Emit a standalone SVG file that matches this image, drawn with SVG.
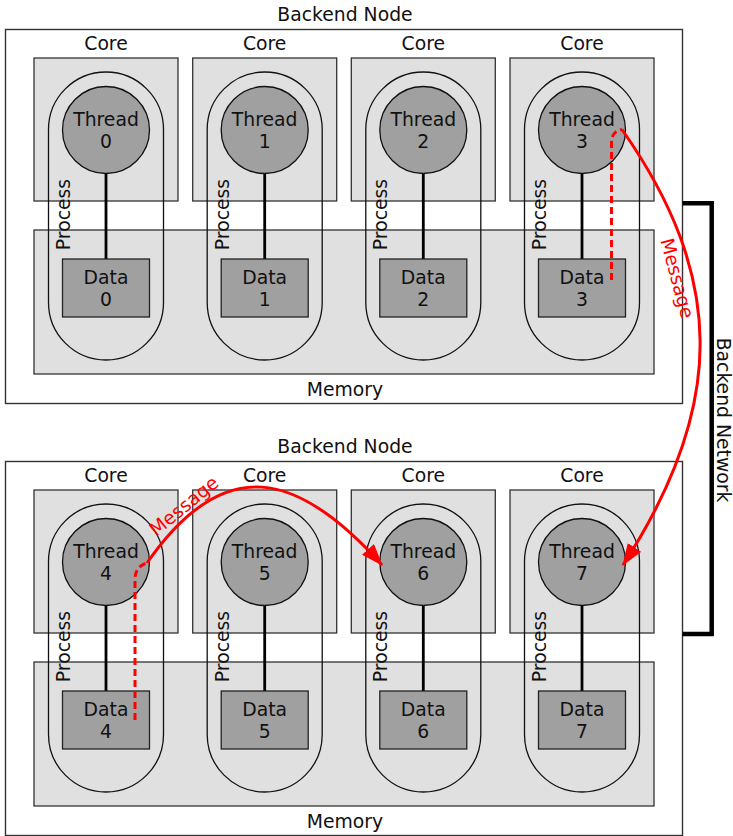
<svg xmlns="http://www.w3.org/2000/svg" width="733" height="836" viewBox="0 0 733 836">
<style>
text{font-family:"DejaVu Sans","Liberation Sans",sans-serif;font-size:18.8px;fill:#111;text-anchor:middle}
.outer{fill:#fff;stroke:#333;stroke-width:1.4}
.box{fill:#e0e0e0;stroke:#333;stroke-width:1.3}
.pill{fill:none;stroke:#111;stroke-width:1.3}
.link{stroke:#000;stroke-width:2.8}
.thread{fill:#a0a0a0;stroke:#111;stroke-width:1.3}
.data{fill:#a0a0a0;stroke:#222;stroke-width:1.3}
.msg{fill:none;stroke:#f00;stroke-width:3}
.dash{fill:none;stroke:#f00;stroke-width:3;stroke-dasharray:7 4}
.red{fill:#f00}
.net{fill:none;stroke:#000;stroke-width:4.5}
</style>
<defs>
<marker id="arrow" markerUnits="userSpaceOnUse" viewBox="0 0 22 16" markerWidth="22" markerHeight="16" refX="21" refY="8" orient="auto">
<path d="M0,0 L22,8 L0,16 z" fill="#f00"/>
</marker>
</defs>

<g id="backend-node-a">
<rect class="outer" x="5.5" y="29.5" width="677" height="374"/>
<text x="345" y="21">Backend Node</text>
<g id="core-0"><rect class="box" x="34" y="58" width="144" height="143"/><text x="106" y="50">Core</text></g>
<g id="core-1"><rect class="box" x="192.7" y="58" width="144" height="143"/><text x="264.7" y="50">Core</text></g>
<g id="core-2"><rect class="box" x="351.3" y="58" width="144" height="143"/><text x="423.3" y="50">Core</text></g>
<g id="core-3"><rect class="box" x="510" y="58" width="144" height="143"/><text x="582" y="50">Core</text></g>
<g id="memory-a"><rect class="box" x="34" y="230" width="620" height="144"/><text x="345" y="396">Memory</text></g>
<g id="process-0"><rect class="pill" x="48.5" y="72" width="115" height="288" rx="57.5"/><text transform="translate(70,214.5) rotate(-90)">Process</text></g>
<g id="process-1"><rect class="pill" x="207.2" y="72" width="115" height="288" rx="57.5"/><text transform="translate(228.7,214.5) rotate(-90)">Process</text></g>
<g id="process-2"><rect class="pill" x="365.8" y="72" width="115" height="288" rx="57.5"/><text transform="translate(387.3,214.5) rotate(-90)">Process</text></g>
<g id="process-3"><rect class="pill" x="524.5" y="72" width="115" height="288" rx="57.5"/><text transform="translate(546,214.5) rotate(-90)">Process</text></g>
</g>

<g id="backend-node-b">
<rect class="outer" x="5.5" y="461.5" width="677" height="374"/>
<text x="345" y="453">Backend Node</text>
<g id="core-4"><rect class="box" x="34" y="490" width="144" height="143"/><text x="106" y="482">Core</text></g>
<g id="core-5"><rect class="box" x="192.7" y="490" width="144" height="143"/><text x="264.7" y="482">Core</text></g>
<g id="core-6"><rect class="box" x="351.3" y="490" width="144" height="143"/><text x="423.3" y="482">Core</text></g>
<g id="core-7"><rect class="box" x="510" y="490" width="144" height="143"/><text x="582" y="482">Core</text></g>
<g id="memory-b"><rect class="box" x="34" y="662" width="620" height="144"/><text x="345" y="828">Memory</text></g>
<g id="process-4"><rect class="pill" x="48.5" y="504" width="115" height="288" rx="57.5"/><text transform="translate(70,646.5) rotate(-90)">Process</text></g>
<g id="process-5"><rect class="pill" x="207.2" y="504" width="115" height="288" rx="57.5"/><text transform="translate(228.7,646.5) rotate(-90)">Process</text></g>
<g id="process-6"><rect class="pill" x="365.8" y="504" width="115" height="288" rx="57.5"/><text transform="translate(387.3,646.5) rotate(-90)">Process</text></g>
<g id="process-7"><rect class="pill" x="524.5" y="504" width="115" height="288" rx="57.5"/><text transform="translate(546,646.5) rotate(-90)">Process</text></g>
</g>

<g id="connectors">
<line class="link" x1="106" y1="173.5" x2="106" y2="259"/>
<line class="link" x1="264.7" y1="173.5" x2="264.7" y2="259"/>
<line class="link" x1="423.3" y1="173.5" x2="423.3" y2="259"/>
<line class="link" x1="582" y1="173.5" x2="582" y2="259"/>
<line class="link" x1="106" y1="605.5" x2="106" y2="691"/>
<line class="link" x1="264.7" y1="605.5" x2="264.7" y2="691"/>
<line class="link" x1="423.3" y1="605.5" x2="423.3" y2="691"/>
<line class="link" x1="582" y1="605.5" x2="582" y2="691"/>
</g>

<g id="thread-0"><circle class="thread" cx="106" cy="130" r="43.5"/><text x="106" y="125.5">Thread</text><text x="106" y="148">0</text></g>
<g id="thread-1"><circle class="thread" cx="264.7" cy="130" r="43.5"/><text x="264.7" y="125.5">Thread</text><text x="264.7" y="148">1</text></g>
<g id="thread-2"><circle class="thread" cx="423.3" cy="130" r="43.5"/><text x="423.3" y="125.5">Thread</text><text x="423.3" y="148">2</text></g>
<g id="thread-3"><circle class="thread" cx="582" cy="130" r="43.5"/><text x="582" y="125.5">Thread</text><text x="582" y="148">3</text></g>
<g id="thread-4"><circle class="thread" cx="106" cy="562" r="43.5"/><text x="106" y="557.5">Thread</text><text x="106" y="580">4</text></g>
<g id="thread-5"><circle class="thread" cx="264.7" cy="562" r="43.5"/><text x="264.7" y="557.5">Thread</text><text x="264.7" y="580">5</text></g>
<g id="thread-6"><circle class="thread" cx="423.3" cy="562" r="43.5"/><text x="423.3" y="557.5">Thread</text><text x="423.3" y="580">6</text></g>
<g id="thread-7"><circle class="thread" cx="582" cy="562" r="43.5"/><text x="582" y="557.5">Thread</text><text x="582" y="580">7</text></g>

<g id="data-0"><rect class="data" x="62.5" y="259" width="87" height="58"/><text x="106" y="283.5">Data</text><text x="106" y="305.5">0</text></g>
<g id="data-1"><rect class="data" x="221.2" y="259" width="87" height="58"/><text x="264.7" y="283.5">Data</text><text x="264.7" y="305.5">1</text></g>
<g id="data-2"><rect class="data" x="379.8" y="259" width="87" height="58"/><text x="423.3" y="283.5">Data</text><text x="423.3" y="305.5">2</text></g>
<g id="data-3"><rect class="data" x="538.5" y="259" width="87" height="58"/><text x="582" y="283.5">Data</text><text x="582" y="305.5">3</text></g>
<g id="data-4"><rect class="data" x="62.5" y="691" width="87" height="58"/><text x="106" y="715.5">Data</text><text x="106" y="737.5">4</text></g>
<g id="data-5"><rect class="data" x="221.2" y="691" width="87" height="58"/><text x="264.7" y="715.5">Data</text><text x="264.7" y="737.5">5</text></g>
<g id="data-6"><rect class="data" x="379.8" y="691" width="87" height="58"/><text x="423.3" y="715.5">Data</text><text x="423.3" y="737.5">6</text></g>
<g id="data-7"><rect class="data" x="538.5" y="691" width="87" height="58"/><text x="582" y="715.5">Data</text><text x="582" y="737.5">7</text></g>

<g id="backend-network">
<polyline class="net" points="682.5,203.3 711.7,203.3 711.7,634 682.5,634"/>
<text transform="translate(717,420) rotate(90)">Backend Network</text>
</g>

<g id="messages">
<path class="dash" d="M611.5,280 L611.5,142 Q612,131 622,129.5"/>
<path class="msg" d="M622,129.5 C724,275 728,404 623,565" marker-end="url(#arrow)"/>
<text class="red" transform="translate(671,280) rotate(75)">Message</text>
<path class="dash" d="M135,720 L135,578 Q136,566 147,563"/>
<path class="msg" d="M147,563 C224,452 298,471 382,565" marker-end="url(#arrow)"/>
<text class="red" transform="translate(188,511) rotate(-39)">Message</text>
</g>
</svg>
